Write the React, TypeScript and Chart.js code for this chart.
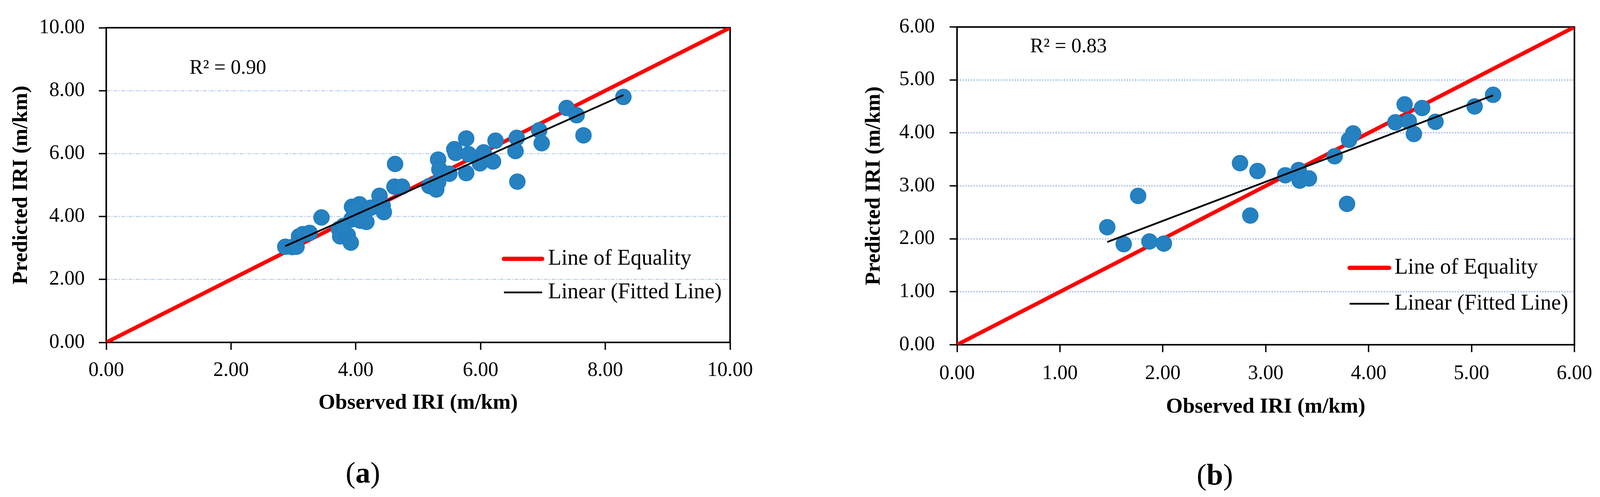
import React, { useEffect, useRef } from "react";
import { Chart, registerables } from "chart.js";

Chart.register(...registerables);

const FONT = "'Liberation Serif', 'Times New Roman', serif";

// ---------- Panel (a) data ----------
const aObserved = [
  2.87, 2.98, 3.05, 3.09, 3.15, 3.26, 3.45, 3.73, 3.75, 3.87, 3.92, 3.94, 3.93, 4.06, 4.07, 4.17,
  4.24, 4.38, 4.43, 4.45, 4.62, 4.63, 4.74, 5.18, 5.29, 5.32, 5.32, 5.34, 5.5, 5.58, 5.6, 5.77,
  5.77, 5.81, 5.99, 6.05, 6.2, 6.24, 6.58, 6.56, 6.59, 6.94, 6.98, 7.38, 7.54, 7.65, 8.29, 4.02,
  3.97, 3.8,
];
const aPredicted = [
  3.04, 3.03, 3.04, 3.37, 3.44, 3.48, 3.97, 3.6, 3.37, 3.41, 3.17, 4.31, 3.91, 4.39, 3.87, 3.83,
  4.28, 4.66, 4.35, 4.14, 4.95, 5.67, 4.95, 4.97, 4.86, 5.09, 5.81, 5.5, 5.36, 6.14, 6.02, 6.48,
  5.38, 5.98, 5.69, 6.04, 5.75, 6.41, 6.5, 6.08, 5.11, 6.74, 6.33, 7.45, 7.22, 6.58, 7.8, 4.08,
  4.22, 3.7,
];
const aFitX = [2.87, 8.29];
const aFitY = [3.06, 7.86];
const aEqualityX = [0, 10];
const aEqualityY = [0, 10];
const aAxisMax = 10;
const aTickStep = 2;
const aR2 = "R\u00B2 = 0.90";

// ---------- Panel (b) data ----------
const bObserved = [
  1.46, 1.62, 1.76, 1.87, 2.01, 2.75, 2.85, 2.92, 3.19, 3.32, 3.33, 3.42, 3.67, 3.79, 3.81, 3.85,
  4.26, 4.35, 4.39, 4.44, 4.52, 4.65, 5.03, 5.21,
];
const bPredicted = [
  2.22, 1.9, 2.81, 1.95, 1.91, 3.43, 2.44, 3.28, 3.2, 3.3, 3.1, 3.14, 3.56, 2.66, 3.87, 3.99,
  4.2, 4.54, 4.22, 3.98, 4.47, 4.21, 4.5, 4.72,
];
const bFitX = [1.46, 5.21];
const bFitY = [1.94, 4.71];
const bEqualityX = [0, 6];
const bEqualityY = [0, 6];
const bAxisMax = 6;
const bTickStep = 1;
const bR2 = "R\u00B2 = 0.83";

const legendLabels = ["Line of Equality", "Linear (Fitted Line)"];
const xTitle = "Observed IRI (m/km)";
const yTitle = "Predicted IRI (m/km)";

const overlayPlugin = {
  id: "overlay",
  beforeDatasetsDraw(chart: any) {
    const { ctx, chartArea: ca } = chart;
    ctx.save();
    ctx.strokeStyle = "#000";
    ctx.lineWidth = 4;
    ctx.strokeRect(ca.left, ca.top, ca.right - ca.left, ca.bottom - ca.top);
    ctx.restore();
  },
  afterDatasetsDraw(chart: any, _args: any, opts: any) {
    const { ctx } = chart;
    ctx.save();
    ctx.fillStyle = "#000";
    ctx.textBaseline = "middle";
    ctx.textAlign = "left";
    ctx.font = `52px ${FONT}`;
    ctx.fillText(opts.r2, opts.r2x, opts.r2y);
    ctx.lineCap = "round";
    ctx.strokeStyle = "#ff0000";
    ctx.lineWidth = 11;
    ctx.beginPath();
    ctx.moveTo(opts.lx1, opts.ly1);
    ctx.lineTo(opts.lx2, opts.ly1);
    ctx.stroke();
    ctx.lineCap = "butt";
    ctx.strokeStyle = "#000";
    ctx.lineWidth = 4.5;
    ctx.beginPath();
    ctx.moveTo(opts.lx1, opts.ly2);
    ctx.lineTo(opts.lx2, opts.ly2);
    ctx.stroke();
    ctx.font = `56px ${FONT}`;
    ctx.fillText(legendLabels[0], opts.tx, opts.ly1);
    ctx.fillText(legendLabels[1], opts.tx, opts.ly2);
    ctx.restore();
  },
};

type PanelProps = {
  left: number;
  width: number;
  height: number;
  observed: number[];
  predicted: number[];
  fitX: number[];
  fitY: number[];
  eqX: number[];
  eqY: number[];
  max: number;
  step: number;
  area: { left: number; right: number; top: number; bottom: number };
  yTitleCenter: number;
  xTitleCenterY: number;
  yLabelPad: number;
  xLabelPad: number;
  gridColor: string;
  gridDash: number[];
  gridWidth: number;
  overlay: any;
};

function Panel(p: PanelProps) {
  const ref = useRef<HTMLCanvasElement | null>(null);
  useEffect(() => {
    if (!ref.current) return;
    const xScaleHeight = 200;
    const tickFont = { family: FONT, size: 52 };
    const titleFont = { family: FONT, size: 55, weight: "bold" as const };
    const chart = new Chart(ref.current, {
      type: "scatter",
      data: {
        datasets: [
          {
            label: "Fitted",
            data: p.fitX.map((x, i) => ({ x, y: p.fitY[i] })),
            showLine: true,
            borderColor: "#000000",
            borderWidth: 4.5,
            pointRadius: 0,
            pointHoverRadius: 0,
            order: 0,
          } as any,
          {
            label: "Data",
            data: p.observed.map((x, i) => ({ x, y: p.predicted[i] })),
            backgroundColor: "#2681c1",
            borderColor: "#1c7cc2",
            borderWidth: 2,
            pointRadius: 20,
            pointHoverRadius: 20,
            order: 1,
          },
          {
            label: "Equality",
            data: p.eqX.map((x, i) => ({ x, y: p.eqY[i] })),
            showLine: true,
            borderColor: "#ff0000",
            borderWidth: 10,
            pointRadius: 0,
            pointHoverRadius: 0,
            order: 2,
          } as any,
        ],
      },
      options: {
        animation: false,
        responsive: false,
        devicePixelRatio: 1,
        events: [],
        layout: {
          padding: {
            left: 0,
            top: p.area.top,
            right: p.width - p.area.right,
            bottom: p.height - p.area.bottom - xScaleHeight,
          },
        },
        plugins: {
          legend: { display: false },
          tooltip: { enabled: false },
          overlay: p.overlay,
        } as any,
        scales: {
          x: {
            type: "linear",
            min: 0,
            max: p.max,
            ticks: {
              stepSize: p.step,
              callback: (v: any) => Number(v).toFixed(2),
              font: tickFont,
              color: "#000",
              padding: p.xLabelPad,
              maxRotation: 0,
              autoSkip: false,
            },
            grid: {
              display: true,
              drawOnChartArea: false,
              drawTicks: true,
              tickLength: 19,
              tickColor: "#000",
              tickWidth: 3.5,
              tickBorderDash: [],
            } as any,
            border: { display: false },
            title: {
              display: true,
              text: xTitle,
              font: titleFont,
              color: "#000",
              padding: { top: 0, bottom: p.area.bottom + xScaleHeight - p.xTitleCenterY - 33 },
            },
            afterFit: (s: any) => {
              s.height = xScaleHeight;
            },
          },
          y: {
            type: "linear",
            min: 0,
            max: p.max,
            ticks: {
              stepSize: p.step,
              callback: (v: any) => Number(v).toFixed(2),
              font: tickFont,
              color: "#000",
              padding: p.yLabelPad,
              autoSkip: false,
            },
            grid: {
              display: true,
              color: p.gridColor,
              lineWidth: p.gridWidth,
              drawTicks: true,
              tickLength: 19,
              tickColor: "#000",
              tickWidth: 3.5,
              tickBorderDash: [],
            } as any,
            border: { display: false, dash: p.gridDash },
            title: {
              display: true,
              text: yTitle,
              font: titleFont,
              color: "#000",
              padding: { top: p.yTitleCenter - 33, bottom: 0 },
            },
            afterFit: (s: any) => {
              s.width = p.area.left;
            },
          },
        },
      } as any,
      plugins: [overlayPlugin as any],
    });
    return () => chart.destroy();
  }, []);
  return (
    <canvas
      ref={ref}
      width={p.width}
      height={p.height}
      style={{ position: "absolute", left: p.left, top: 0, width: p.width, height: p.height, display: "block" }}
    />
  );
}

function SubLabel({ x, y, letter }: { x: number; y: number; letter: string }) {
  return (
    <div
      style={{
        position: "absolute",
        left: x,
        top: y,
        transform: "translate(-50%, -50%)",
        fontFamily: FONT,
        fontSize: 76,
        lineHeight: 1,
        color: "#000",
        whiteSpace: "nowrap",
      }}
    >
      (<b>{letter}</b>)
    </div>
  );
}

export default function App() {
  useEffect(() => {
    document.documentElement.style.overflow = "hidden";
    document.body.style.overflow = "hidden";
    document.body.style.margin = "0";
  }, []);
  return (
    <div
      style={{
        position: "fixed",
        left: 0,
        top: 0,
        width: 4100,
        height: 1260,
        background: "#fff",
        overflow: "hidden",
      }}
    >
      <Panel
        left={0}
        width={2000}
        height={1100}
        observed={aObserved}
        predicted={aPredicted}
        fitX={aFitX}
        fitY={aFitY}
        eqX={aEqualityX}
        eqY={aEqualityY}
        max={aAxisMax}
        step={aTickStep}
        area={{ left: 272, right: 1869, top: 71, bottom: 877 }}
        yTitleCenter={55}
        xTitleCenterY={1033}
        yLabelPad={36}
        xLabelPad={22}
        gridColor="#c3d5ee"
        gridDash={[10, 3, 3, 3]}
        gridWidth={3}
        overlay={{ r2: aR2, r2x: 485, r2y: 175, lx1: 1290, lx2: 1388, ly1: 663, ly2: 749, tx: 1403 }}
      />
      <Panel
        left={2070}
        width={2030}
        height={1100}
        observed={bObserved}
        predicted={bPredicted}
        fitX={bFitX}
        fitY={bFitY}
        eqX={bEqualityX}
        eqY={bEqualityY}
        max={bAxisMax}
        step={bTickStep}
        area={{ left: 380, right: 2006, top: 39, bottom: 883 }}
        yTitleCenter={168}
        xTitleCenterY={1043}
        yLabelPad={38}
        xLabelPad={24}
        gridColor="#b5cbed"
        gridDash={[4, 3]}
        gridWidth={4}
        overlay={{ r2: bR2, r2x: 567, r2y: 120, lx1: 1385, lx2: 1486, ly1: 686, ly2: 778, tx: 1500 }}
      />
      <SubLabel x={929} y={1210} letter="a" />
      <SubLabel x={3110} y={1215} letter="b" />
    </div>
  );
}
